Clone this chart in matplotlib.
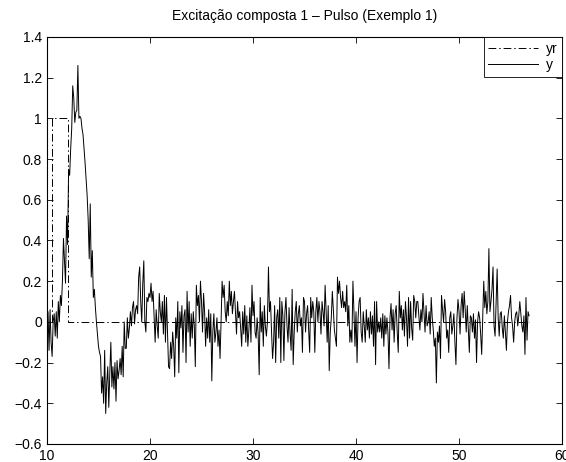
import numpy as np
import matplotlib
matplotlib.use('Agg')
from matplotlib import pyplot as plt
from matplotlib.ticker import FuncFormatter

plt.rcParams['font.family'] = ['Liberation Sans', 'DejaVu Sans']
plt.rcParams['font.size'] = 10

# reference pulse yr
yr_t = [10.45, 10.45, 12.0, 12.0, 56.8]
yr = [0, 1, 1, 0, 0]

# response y, sampled every 0.1 s starting at t = 10
y = [
    -0.12, 0.05, -0.14, 0.06, -0.10, -0.17, 0.00, 0.04, -0.07, 0.05,
    -0.08, 0.10, 0.00, 0.13, 0.08, 0.20, 0.41, 0.30, 0.19, 0.52,
    0.38, 0.75, 0.72, 0.85, 0.95, 1.16, 1.10, 0.98, 1.03, 1.04,
    1.26, 1.00, 1.01, 1.00, 0.95, 0.92, 0.85, 0.78, 0.70, 0.62,
    0.50, 0.31, 0.58, 0.22, 0.35, 0.12, 0.16, 0.07, 0.00, -0.06,
    -0.12, -0.15, -0.17, -0.35, -0.27, -0.40, -0.14, -0.45, -0.30, -0.22,
    -0.42, -0.25, -0.10, -0.32, -0.22, -0.33, -0.20, -0.39, -0.19, -0.28,
    -0.24, -0.18, -0.26, -0.12, -0.27, 0.00, -0.13, -0.13, 0.02, -0.08,
    -0.03, 0.05, -0.02, 0.07, 0.10, -0.01, 0.06, 0.08, 0.04, 0.22,
    0.27, 0.10, 0.00, 0.19, 0.30, 0.00, -0.05, 0.12, 0.10, 0.14,
    0.12, 0.19, 0.10, 0.15, 0.02, -0.10, 0.06, -0.02, -0.08, 0.14,
    0.05, 0.00, 0.10, -0.06, 0.13, -0.10, 0.12, -0.05, -0.22, -0.23,
    -0.10, -0.18, -0.05, -0.12, -0.27, 0.02, -0.08, 0.10, -0.25, 0.05,
    -0.03, 0.08, -0.15, 0.03, 0.06, -0.20, 0.15, -0.05, 0.10, -0.12,
    0.04, -0.08, 0.05, -0.02, -0.22, 0.18, 0.08, 0.13, 0.00, 0.20,
    0.10, -0.05, 0.14, 0.05, -0.12, 0.02, -0.08, 0.06, -0.10, 0.04,
    -0.29, -0.05, 0.04, -0.10, -0.05, 0.02, -0.12, -0.04, -0.18, 0.00,
    0.20, 0.12, 0.18, 0.05, 0.00, 0.10, 0.03, 0.20, 0.08, 0.15,
    0.04, 0.10, 0.15, 0.05, -0.06, 0.10, 0.02, 0.05, -0.03, -0.12,
    0.05, -0.06, 0.08, -0.10, 0.03, -0.12, -0.04, 0.07, -0.10, 0.18,
    0.03, 0.10, -0.05, -0.08, 0.02, -0.06, -0.26, 0.12, -0.05, 0.05,
    -0.12, 0.08, -0.02, -0.07, 0.00, 0.27, 0.05, 0.10, -0.05, -0.18,
    -0.10, 0.08, -0.20, 0.02, 0.06, -0.08, 0.12, -0.20, 0.10, 0.03,
    -0.19, 0.05, 0.12, -0.02, -0.10, 0.07, -0.06, -0.14, 0.16, -0.21,
    -0.05, 0.05, 0.10, -0.05, 0.04, 0.08, -0.02, 0.02, -0.15, 0.12,
    0.10, -0.05, 0.04, 0.08, -0.03, -0.15, 0.12, 0.02, 0.10, 0.05,
    -0.15, 0.05, 0.12, 0.00, 0.10, 0.05, -0.06, 0.10, 0.05, -0.02,
    0.18, 0.05, -0.10, 0.08, -0.24, -0.05, 0.02, 0.15, 0.06, -0.04,
    -0.08, -0.12, 0.22, 0.14, 0.20, 0.12, 0.07, 0.15, 0.07, 0.10,
    0.05, 0.18, -0.02, 0.08, -0.10, -0.04, -0.10, 0.20, 0.05, -0.12,
    0.05, -0.20, 0.02, 0.10, 0.12, -0.05, -0.10, 0.05, -0.02, -0.10,
    0.06, -0.04, 0.02, -0.08, 0.05, -0.06, 0.03, -0.12, 0.10, -0.21,
    0.10, -0.05, 0.00, -0.05, 0.02, -0.08, 0.04, -0.12, 0.03, -0.06,
    0.02, -0.05, -0.23, 0.02, 0.09, -0.04, 0.06, -0.10, 0.04, 0.08,
    -0.05, -0.15, 0.15, 0.02, 0.08, -0.04, 0.06, -0.07, 0.10, 0.02,
    -0.12, 0.12, -0.08, 0.10, -0.03, -0.09, 0.13, 0.10, 0.02, 0.10,
    0.10, 0.03, -0.04, 0.06, 0.00, 0.14, 0.04, -0.05, 0.08, -0.02,
    0.00, 0.05, -0.06, 0.12, 0.02, -0.04, -0.12, -0.08, -0.30, -0.05,
    -0.10, -0.02, -0.18, 0.13, 0.06, 0.00, 0.11, 0.05, -0.08, -0.04,
    -0.15, 0.02, 0.05, -0.06, -0.02, 0.04, -0.10, -0.21, 0.02, 0.11,
    0.05, -0.06, 0.08, 0.14, 0.02, 0.15, 0.06, -0.05, 0.08, -0.04,
    -0.15, 0.03, 0.02, -0.05, 0.04, -0.08, 0.01, -0.20, 0.00, 0.05,
    0.02, -0.06, -0.16, 0.03, 0.20, 0.07, 0.15, 0.04, 0.10, 0.36,
    0.05, 0.10, 0.16, 0.27, -0.02, -0.07, 0.10, 0.26, 0.02, -0.07,
    0.04, 0.05, -0.03, -0.08, 0.03, -0.05, -0.14, 0.00, 0.05, 0.08,
    0.13, 0.02, -0.02, -0.10, 0.00, 0.04, 0.05, -0.02, 0.03, 0.10,
    0.04, -0.02, -0.05, 0.03, -0.16, 0.12, -0.09, 0.05, 0.03,
]
t = 10 + 0.1 * np.arange(len(y))

fig = plt.figure(figsize=(5.66, 4.62), dpi=100)
ax = fig.add_axes([0.083, 0.039, 0.910, 0.881])

ax.plot(yr_t, yr, color='black', linewidth=0.7, linestyle=(0, (8, 3, 1.5, 3)), label='yr')
ax.plot(t, y, color='black', linewidth=0.7, label='y')

ax.set_xlim(10, 60)
ax.set_ylim(-0.6, 1.4)
ax.set_xticks([10, 20, 30, 40, 50, 60])
ax.set_yticks(np.arange(-0.6, 1.41, 0.2))
fmt = FuncFormatter(lambda v, p: ('%g' % round(v, 2)).replace('-', '\u2212'))
ax.xaxis.set_major_formatter(fmt)
ax.yaxis.set_major_formatter(fmt)
ax.tick_params(direction='in', top=True, right=True, length=4, width=0.6, labelsize=10)
for s in ax.spines.values():
    s.set_linewidth(0.8)

ax.set_title('Excitação composta 1 \u2013 Pulso (Exemplo 1)', fontsize=10, pad=12)

leg = ax.legend(loc='upper right', borderaxespad=0, fancybox=False, framealpha=1,
                edgecolor='black', handlelength=3.6, handletextpad=0.5,
                borderpad=0.35, labelspacing=0.15, fontsize=10)
leg.get_frame().set_linewidth(0.6)

plt.savefig('out.png', dpi=100)
